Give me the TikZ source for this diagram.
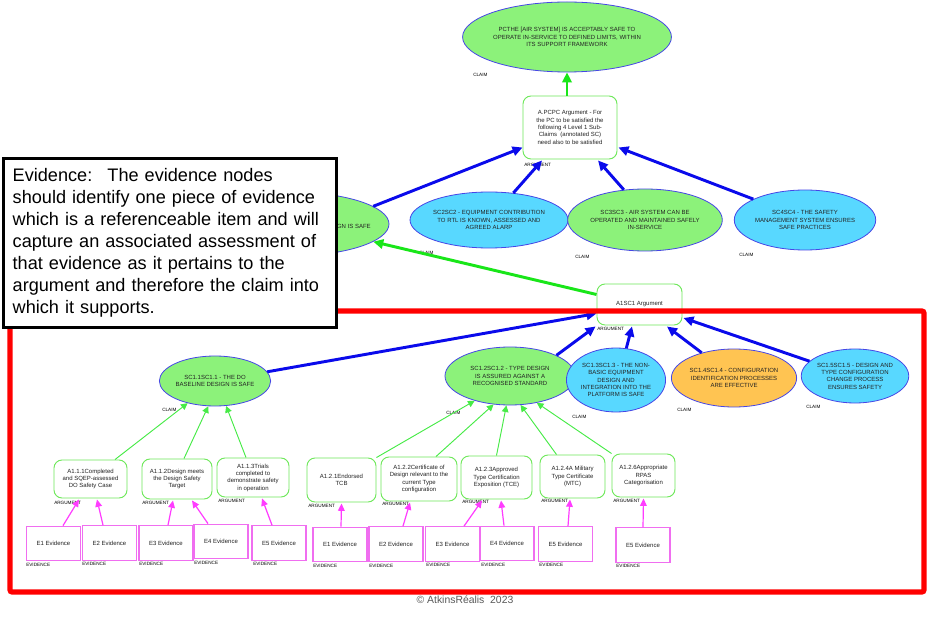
\documentclass[tikz,border=0pt]{standalone}
\usepackage{fontspec}
\setmainfont{Liberation Sans}
\usetikzlibrary{shapes.geometric,arrows.meta,calc}
\definecolor{gfill}{RGB}{140,242,122}
\definecolor{cfill}{RGB}{88,216,255}
\definecolor{ofill}{RGB}{255,196,82}
\definecolor{eborder}{RGB}{70,70,230}
\definecolor{boxgreen}{RGB}{110,232,90}
\definecolor{argreen}{RGB}{25,230,25}
\definecolor{lgreen}{RGB}{70,235,70}
\definecolor{ablue}{RGB}{10,10,235}
\definecolor{magl}{RGB}{255,60,255}
\definecolor{magbox}{RGB}{240,110,240}
\definecolor{txt}{RGB}{35,35,35}
\definecolor{copyg}{RGB}{90,90,90}
\tikzset{
  small/.style={font=\fontsize{4.5}{5.5}\selectfont, text=txt, align=center},
  ell/.style 2 args={ellipse, draw=eborder, line width=0.6pt, inner sep=0pt,
     minimum width=#1*1.5pt, minimum height=#2*1.5pt, small},
  argbox/.style 2 args={rectangle, rounded corners=6pt, draw=boxgreen, line width=0.7pt,
     fill=white, inner sep=0pt, minimum width=#1*0.75pt, minimum height=#2*0.75pt, small},
  evbox/.style={rectangle, draw=magbox, line width=0.8pt, fill=white, inner sep=0pt,
     minimum width=40.5pt, minimum height=26pt, small},
  tag/.style={anchor=west, inner sep=0pt, font=\fontsize{3.5}{4}\selectfont, text=black},
  barrow/.style={draw=ablue, line width=2.2pt, -{Triangle[length=7.5pt,width=7pt]}},
  garrow/.style={draw=argreen, line width=2.2pt, -{Triangle[length=7.5pt,width=7pt]}},
  glink/.style={draw=lgreen, line width=0.7pt, -{Triangle[length=5pt,width=5pt]}},
  mlink/.style={draw=magl, line width=0.9pt, -{Triangle[length=5.5pt,width=5pt]}},
}
\begin{document}
\begin{tikzpicture}[x=0.75pt,y=-0.75pt]
\useasboundingbox (0,0) rectangle (927,623);
\fill[white] (0,0) rectangle (927,623);

% ---------- top level ----------
\node[ell={94}{35}, fill=gfill] (PC) at (567,37)
  {PCTHE [AIR SYSTEM] IS ACCEPTABLY SAFE TO\\OPERATE IN-SERVICE TO DEFINED LIMITS, WITHIN\\ITS SUPPORT FRAMEWORK};
\node[tag] (PCt) at (473,75) {CLAIM};

\node[argbox={94}{63}] (APC) at (570,127.5)
  {A.PCPC Argument - For\\the PC to be satisfied the\\following 4 Level 1 Sub-\\Claims~ (annotated SC)\\need also to be satisfied};
\node[tag] (APCt) at (524,165) {ARGUMENT};

\node[ell={99}{32}, fill=gfill] (SC1) at (290,224) {};
\node[small, anchor=east, inner sep=0pt] (SC1txt) at (371,226) {SC1SC1 - THE AIR SYSTEM DESIGN IS SAFE};
\node[ell={71}{28}, fill=cfill] (SC2) at (489,220)
  {SC2SC2 - EQUIPMENT CONTRIBUTION\\TO RTL IS KNOWN, ASSESSED AND\\AGREED ALARP};
\node[tag] (SC2t) at (419,253) {CLAIM};
\node[ell={70}{31}, fill=gfill] (SC3) at (645,220)
  {SC3SC3 - AIR SYSTEM CAN BE\\OPERATED AND MAINTAINED SAFELY\\IN-SERVICE};
\node[tag] (SC3t) at (575,257) {CLAIM};
\node[ell={67}{30}, fill=cfill] (SC4) at (805,220)
  {SC4SC4 - THE SAFETY\\MANAGEMENT SYSTEM ENSURES\\SAFE PRACTICES};
\node[tag] (SC4t) at (739,255) {CLAIM};

\draw[garrow] ($(APC.north)+(-3,0)$) -- (PC.south);
\draw[barrow] (SC1.12) -- ($(APC.west)+(0,20)$);
\draw[barrow] (SC2.48) -- ($(APC.south)+(-28,1)$);
\draw[barrow] (SC3.125) -- ($(APC.south)+(28,1)$);
\draw[barrow] (SC4.158) -- ($(APC.east)+(1,20)$);

% ---------- A1 level ----------
\node[argbox={85}{41}] (A1) at (639.5,304.5) {A1SC1 Argument};
\node[tag] (A1t) at (597,329) {ARGUMENT};
\draw[garrow] ($(A1.west)+(0,-10)$) -- (SC1.-12);

\node[ell={54}{25}, fill=gfill] (SC11) at (215,381) {SC1.1SC1.1 - THE DO\\BASELINE DESIGN IS SAFE};
\node[tag] (SC11t) at (162,410) {CLAIM};
\node[ell={65}{29}, fill=gfill] (SC12) at (510,376) {SC1.2SC1.2 - TYPE DESIGN\\IS ASSURED AGAINST A\\RECOGNISED STANDARD};
\node[tag] (SC12t) at (446,413) {CLAIM};
\node[ell={45}{32}, fill=cfill] (SC13) at (616,380) {SC1.3SC1.3 - THE NON-\\BASIC EQUIPMENT\\DESIGN AND\\INTEGRATION INTO THE\\PLATFORM IS SAFE};
\node[tag] (SC13t) at (572,417) {CLAIM};
\node[ell={58}{29}, fill=ofill] (SC14) at (734,378) {SC1.4SC1.4 - CONFIGURATION\\IDENTIFICATION PROCESSES\\ARE EFFECTIVE};
\node[tag] (SC14t) at (677,410) {CLAIM};
\node[ell={49}{27}, fill=cfill] (SC15) at (855,376) {SC1.5SC1.5 - DESIGN AND\\TYPE CONFIGURATION\\CHANGE PROCESS\\ENSURES SAFETY};
\node[tag] (SC15t) at (806,407) {CLAIM};

\draw[barrow] (SC11.10) -- ($(A1.west)+(0,9)$);
\draw[barrow] (SC12.24) -- ($(A1.south west)+(-1,1)$);
\draw[barrow] (SC13.72) -- ($(A1.south)+(-7.5,1)$);
\draw[barrow] (SC14.142) -- ($(A1.south)+(27.5,1)$);
\draw[barrow] (SC15.162) -- ($(A1.east)+(1,13.5)$);

% ---------- argument boxes ----------
\node[argbox={73}{38}] (A111) at (90.5,479) {A1.1.1Completed\\and SQEP-assessed\\DO Safety Case};
\node[tag] (A111t) at (54,503) {ARGUMENT};
\node[argbox={70}{40}] (A112) at (177,479) {A1.1.2Design meets\\the Design Safety\\Target};
\node[tag] (A112t) at (142,503) {ARGUMENT};
\node[argbox={72}{39}] (A113) at (253,477.5) {A1.1.3Trials\\completed to\\demonstrate safety\\in operation};
\node[tag] (A113t) at (218,501) {ARGUMENT};

\node[argbox={69}{44}] (A121) at (341.5,480) {A1.2.1Endorsed\\TCB};
\node[tag] (A121t) at (308,506) {ARGUMENT};
\node[argbox={76}{44}] (A122) at (419,479) {A1.2.2Certificate of\\Design relevant to the\\current Type\\configuration};
\node[tag] (A122t) at (382,504) {ARGUMENT};
\node[argbox={71}{43}] (A123) at (496.5,477.5) {A1.2.3Approved\\Type Certification\\Exposition (TCE)};
\node[tag] (A123t) at (462,502) {ARGUMENT};
\node[argbox={65}{43}] (A124) at (572.5,476.5) {A1.2.4A Military\\Type Certificate\\(MTC)};
\node[tag] (A124t) at (541,501) {ARGUMENT};
\node[argbox={63}{43}] (A126) at (643.5,475.5) {A1.2.6Appropriate\\RPAS\\Categorisation};
\node[tag] (A126t) at (613,501) {ARGUMENT};

\draw[glink] ($(A111.north)+(24.5,0)$) -- (SC11.-141);
\draw[glink] ($(A112.north)+(7,0)$) -- (SC11.-105);
\draw[glink] ($(A113.north)+(-7,0)$) -- (SC11.-66);
\draw[glink] (A121.north east) -- (SC12.-145);
\draw[glink] ($(A122.north)+(17,0)$) -- (SC12.-120);
\draw[glink] (A123.north) -- (SC12.-97);
\draw[glink] ($(A124.north)+(-16,0)$) -- (SC12.-70);
\draw[glink] (A126.north west) -- (SC12.-45);

% ---------- evidence ----------
\node[evbox] (E111) at (53.5,543.5) {E1 Evidence};
\node[tag] (E111t) at (26,565) {EVIDENCE};
\node[evbox] (E112) at (109.5,543) {E2 Evidence};
\node[tag] (E112t) at (82,564) {EVIDENCE};
\node[evbox] (E113) at (166,543) {E3 Evidence};
\node[tag] (E113t) at (139,564) {EVIDENCE};
\node[evbox] (E114) at (221,541.5) {E4 Evidence};
\node[tag] (E114t) at (194,563) {EVIDENCE};
\node[evbox] (E115) at (279,543) {E5 Evidence};
\node[tag] (E115t) at (253,564) {EVIDENCE};

\node[evbox] (E121) at (340,544.5) {E1 Evidence};
\node[tag] (E121t) at (313,566) {EVIDENCE};
\node[evbox] (E122) at (396,544) {E2 Evidence};
\node[tag] (E122t) at (369,566) {EVIDENCE};
\node[evbox] (E123) at (452.5,544) {E3 Evidence};
\node[tag] (E123t) at (426,565) {EVIDENCE};
\node[evbox] (E124) at (507,543.5) {E4 Evidence};
\node[tag] (E124t) at (481,565) {EVIDENCE};
\node[evbox] (E125) at (565.5,544) {E5 Evidence};
\node[tag] (E125t) at (539,565) {EVIDENCE};
\node[evbox] (E126) at (643,545) {E5 Evidence};
\node[tag] (E126t) at (616,566) {EVIDENCE};

\draw[mlink] ($(E111.north)+(9.5,0)$) -- ($(A111.south)+(-11.5,1)$);
\draw[mlink] ($(E112.north)+(-6.5,0)$) -- ($(A111.south)+(6.5,1)$);
\draw[mlink] ($(E113.north)+(2,0)$) -- ($(A112.south)+(-4,1)$);
\draw[mlink] ($(E114.north)+(-13,0)$) -- ($(A112.south)+(15,1)$);
\draw[mlink] ($(E115.north)+(-7,0)$) -- ($(A113.south)+(9,1)$);
\draw[mlink] ($(E121.north)+(1,0)$) -- ($(A121.south)+(0,1)$);
\draw[mlink] ($(E122.north)+(7,0)$) -- ($(A122.south)+(-9,1)$);
\draw[mlink] ($(E123.north)+(11.5,0)$) -- ($(A123.south)+(-14.5,1)$);
\draw[mlink] ($(E124.north)+(-3,0)$) -- ($(A123.south)+(4.5,1)$);
\draw[mlink] ($(E125.north)+(2.5,0)$) -- ($(A124.south)+(-2.5,1)$);
\draw[mlink] (E126.north) -- ($(A126.south)+(0,1)$);

% ---------- red frame ----------
\draw[red, line width=3.8pt, rounded corners=1.5pt] (10,311) rectangle (924,592);

% ---------- callout ----------
\node[rectangle, draw=black, line width=2.3pt, fill=white, anchor=north west,
      minimum width=249.75pt, minimum height=126.75pt, inner xsep=6.5pt, inner ysep=0pt,
      text width=236pt, align=left, font=\fontsize{13.6}{16.5}\selectfont] (note) at (2,157)
  {Evidence:~ The evidence nodes\\should identify one piece of evidence\\which is a referenceable item and will\\capture an associated assessment of\\that evidence as it pertains to the\\argument and therefore the claim into\\which it supports.};

\node[font=\fontsize{7.8}{9}\selectfont, text=copyg, inner sep=0pt] (copy) at (465,600) {© AtkinsRéalis~ 2023};
\end{tikzpicture}
\end{document}
